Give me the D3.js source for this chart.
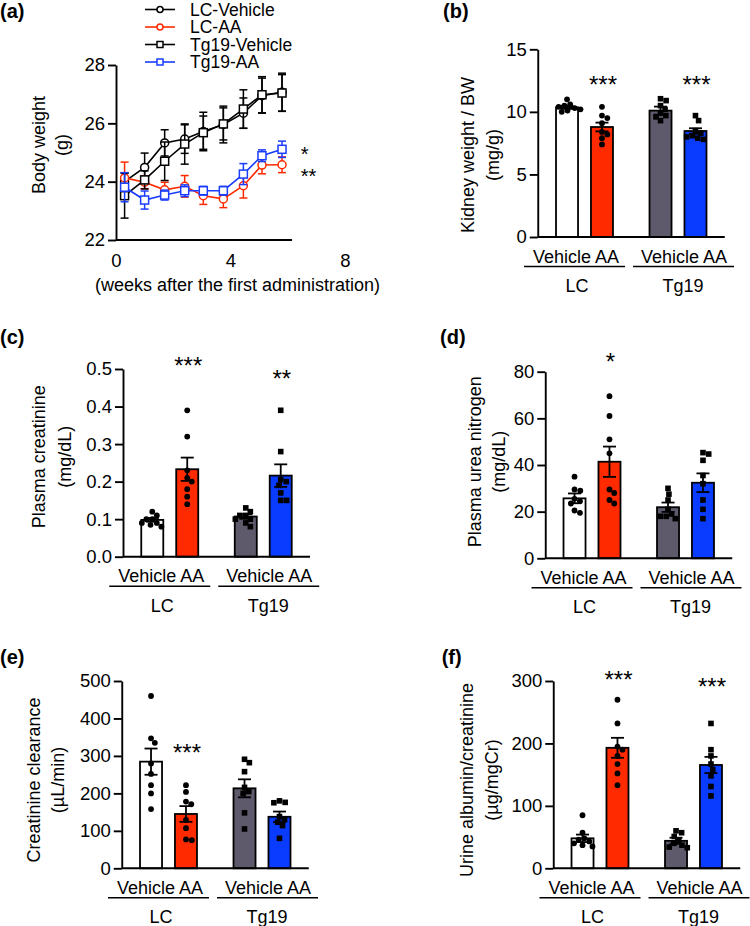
<!DOCTYPE html>
<html>
<head>
<meta charset="utf-8">
<script src="https://cdn.jsdelivr.net/npm/d3@7"></script>
<style>
  body { margin: 0; background: #fff; }
  text { font-family: "Liberation Sans", Arial, Helvetica, sans-serif; fill: #000; }
</style>
</head>
<body>
<svg id="fig" width="750" height="926"></svg>
<script>
// ---- (a) body weight time course
var weeks = [0.3, 1.0, 1.7, 2.4, 3.05, 3.75, 4.45, 5.1, 5.8];
var bwLCVehicle = [24.0, 24.49, 25.33, 25.46, 25.72, 25.96, 26.35, 26.95, 27.07];
var bwLCVehicleSem = [0.3, 0.49, 0.45, 0.49, 0.66, 0.63, 0.52, 0.6, 0.65];
var bwLCAA = [24.13, 23.98, 23.72, 23.84, 23.52, 23.41, 23.86, 24.57, 24.58];
var bwLCAASem = [0.54, 0.22, 0.26, 0.37, 0.3, 0.3, 0.42, 0.3, 0.27];
var bwTgVehicle = [23.52, 24.06, 24.70, 25.29, 25.68, 25.98, 26.49, 26.98, 27.04];
var bwTgVehicleSem = [0.77, 0.31, 0.66, 0.69, 0.57, 0.55, 0.66, 0.62, 0.63];
var bwTgAA = [23.81, 23.37, 23.54, 23.69, 23.69, 23.69, 24.26, 24.89, 25.11];
var bwTgAASem = [0.5, 0.31, 0.17, 0.2, 0.15, 0.15, 0.36, 0.2, 0.28];
var bwSig = ['*', '**'];
var bwSigAt = [25.12, 24.36];

// ---- bar panels, groups in order LC-Vehicle, LC-AA, Tg19-Vehicle, Tg19-AA
var genotypes = ['LC', 'Tg19'];
var treatments = ['Vehicle', 'AA'];
var barColors = ['#ffffff', '#ff2a00', '#5f5a6b', '#0a3cff'];

// (b) kidney weight / BW
var kwMean = [10.36, 8.79, 10.1, 8.47];
var kwSem = [0.12, 0.35, 0.32, 0.22];
var kwPoints = [
  [11.0, 10.6, 10.5, 10.4, 10.3, 10.2, 10.1, 10.0],
  [10.4, 9.7, 9.5, 9.1, 8.4, 8.2, 7.9, 7.4],
  [11.05, 10.9, 10.5, 10.2, 9.9, 9.7, 9.6, 9.3],
  [9.7, 9.3, 8.5, 8.3, 8.1, 8.0, 7.9, 7.8]
];
var kwSig = ['', '***', '', '***'];
var kwSigAt = [0, 12.6, 0, 12.6];

// (c) plasma creatinine
var crMean = [0.098, 0.233, 0.107, 0.216];
var crSem = [0.005, 0.031, 0.006, 0.03];
var crPoints = [
  [0.12, 0.11, 0.10, 0.10, 0.09, 0.09, 0.085, 0.08],
  [0.39, 0.32, 0.23, 0.21, 0.20, 0.18, 0.16, 0.14],
  [0.13, 0.12, 0.11, 0.11, 0.10, 0.10, 0.09, 0.08],
  [0.39, 0.28, 0.205, 0.20, 0.19, 0.17, 0.15, 0.15]
];
var crSig = ['', '***', '', '**'];
var crSigAt = [0, 0.524, 0, 0.49];

// (d) plasma urea nitrogen
var bunMean = [25.7, 41.4, 21.9, 32.4];
var bunSem = [2.1, 6.5, 2.0, 4.0];
var bunPoints = [
  [35, 29.5, 29, 25.5, 24.5, 23.5, 20.5, 19.5],
  [69.5, 61, 51, 45, 29.5, 28, 25, 23.5],
  [30, 27.5, 25, 21, 19, 18, 18, 17],
  [45.3, 44.7, 42, 35.5, 32, 25, 21, 17]
];
var bunSig = ['', '*', '', ''];
var bunSigAt = [0, 86.7, 0, 0];

// (e) creatinine clearance
var ccrMean = [284.7, 145, 213.5, 137.5];
var ccrSem = [35, 21, 24, 14];
var ccrPoints = [
  [460, 347, 335, 280, 252, 222, 200, 158],
  [222, 204, 178, 171, 129, 107, 77, 75],
  [291, 282, 258, 216, 205, 200, 148, 105],
  [180, 176, 175, 138, 130, 123, 114, 80]
];
var ccrSig = ['', '***', '', ''];
var ccrSigAt = [0, 324, 0, 0];

// (f) urine albumin / creatinine
var uacrMean = [48, 193, 44, 165.5];
var uacrSem = [6, 16, 5, 13];
var uacrPoints = [
  [85, 57, 48, 46, 43, 40, 37, 35],
  [270, 232, 195, 190, 180, 167, 152, 133],
  [60, 57, 51, 45, 40, 37, 34, 33],
  [232, 190, 180, 167, 158, 148, 131, 116]
];
var uacrSig = ['', '***', '', '***'];
var uacrSigAt = [0, 311, 0, 300.5];

var svg = d3.select('#fig');
var FS = 18, AXW = 1.9;

function styleAxis(g) {
  g.attr('font-family', null).attr('font-size', null);
  g.selectAll('.domain, .tick line').attr('stroke', '#000').attr('stroke-width', AXW);
  g.selectAll('.tick text').attr('font-size', 18.5).attr('fill', '#000');
}

function panelLabel(t, x, y) {
  svg.append('text').attr('x', x).attr('y', y)
    .attr('font-size', 20).attr('font-weight', 'bold').text(t);
}

function yTitle(lines, xs, cy) {
  lines.forEach(function(t, i) {
    svg.append('text')
      .attr('transform', 'translate(' + xs[i] + ',' + cy + ') rotate(-90)')
      .attr('text-anchor', 'middle').attr('font-size', FS).text(t);
  });
}

// ================= panel (a)
(function() {
  var x = d3.scaleLinear().domain([0, 8]).range([116, 345]),
      y = d3.scaleLinear().domain([22, 28]).range([240, 65]),
      xAxisEnd = 6.15;

  var series = [
    {name: 'LC-Vehicle', color: '#000', sym: 'circle', mean: bwLCVehicle, sem: bwLCVehicleSem},
    {name: 'LC-AA', color: '#ff2a00', sym: 'circle', mean: bwLCAA, sem: bwLCAASem},
    {name: 'Tg19-Vehicle', color: '#000', sym: 'square', mean: bwTgVehicle, sem: bwTgVehicleSem},
    {name: 'Tg19-AA', color: '#1a3cff', sym: 'square', mean: bwTgAA, sem: bwTgAASem}
  ];

  var g = svg.append('g');

  var yAx = g.append('g').attr('transform', 'translate(' + x(0) + ',0)')
    .call(d3.axisLeft(y).tickValues([22, 24, 26, 28]).tickFormat(d3.format('d'))
      .tickSize(8).tickPadding(3).tickSizeOuter(0));
  styleAxis(yAx);

  g.append('line').attr('x1', x(0)).attr('x2', x(xAxisEnd))
    .attr('y1', y(22)).attr('y2', y(22)).attr('stroke', '#000').attr('stroke-width', AXW);

  var xAx = g.append('g').attr('transform', 'translate(0,' + y(22) + ')')
    .call(d3.axisBottom(x).tickValues([0, 4, 8]).tickSize(0).tickPadding(14));
  styleAxis(xAx);
  xAx.select('.domain').remove();

  svg.append('text').attr('x', 237.5).attr('y', 291).attr('text-anchor', 'middle')
    .attr('font-size', FS).text('(weeks after the first administration)');

  var line = d3.line().x(function(d, i) { return x(weeks[i]); }).y(function(d) { return y(d); });

  function drawSym(sel, s, r) {
    if (s.sym === 'circle') {
      sel.append('circle').attr('r', r);
    } else {
      sel.append('rect').attr('x', -r).attr('y', -r).attr('width', 2 * r).attr('height', 2 * r);
    }
    sel.selectAll('circle, rect').attr('fill', '#fff').attr('stroke', s.color).attr('stroke-width', 1.5);
  }

  series.forEach(function(s) {
    var sg = g.append('g');
    sg.append('path').datum(s.mean).attr('d', line)
      .attr('fill', 'none').attr('stroke', s.color).attr('stroke-width', 1.6);

    var eb = sg.selectAll('g.eb').data(s.mean).enter().append('g').attr('class', 'eb')
      .attr('transform', function(d, i) { return 'translate(' + x(weeks[i]) + ',0)'; });
    eb.append('line').attr('y1', function(d, i) { return y(d - s.sem[i]); })
      .attr('y2', function(d, i) { return y(d + s.sem[i]); });
    eb.append('line').attr('x1', -4).attr('x2', 4)
      .attr('y1', function(d, i) { return y(d + s.sem[i]); }).attr('y2', function(d, i) { return y(d + s.sem[i]); });
    eb.append('line').attr('x1', -4).attr('x2', 4)
      .attr('y1', function(d, i) { return y(d - s.sem[i]); }).attr('y2', function(d, i) { return y(d - s.sem[i]); });
    eb.selectAll('line').attr('stroke', s.color).attr('stroke-width', 1.5);

    sg.selectAll('g.pt').data(s.mean).enter().append('g').attr('class', 'pt')
      .attr('transform', function(d, i) { return 'translate(' + x(weeks[i]) + ',' + y(d) + ')'; })
      .each(function() { drawSym(d3.select(this), s, 4); });
  });

  bwSig.forEach(function(t, i) {
    svg.append('text').attr('x', x(6.45)).attr('y', y(bwSigAt[i]) + 12)
      .attr('font-size', 20).text(t);
  });

  // legend
  var lg = svg.append('g').selectAll('g').data(series).enter().append('g')
    .attr('transform', function(d, i) { return 'translate(0,' + (9.5 + i * 17.5) + ')'; });
  lg.append('line').attr('x1', 145).attr('x2', 175)
    .attr('stroke', function(d) { return d.color; }).attr('stroke-width', 1.6);
  lg.each(function(d) {
    var m = d3.select(this).append('g').attr('transform', 'translate(160,0)');
    drawSym(m, d, 3);
  });
  lg.append('text').attr('x', 190).attr('y', 6.3).attr('font-size', 17.5).text(function(d) { return d.name; });

  yTitle(['Body weight', '(g)'], [44.7, 68], 145);
  panelLabel('(a)', 0, 17.5);
})();

// ================= bar panels
function barPanel(p) {
  var g = svg.append('g');
  var y = d3.scaleLinear().domain([0, p.max]).range([p.bottom, p.top]);
  var outer = d3.scaleBand().domain(genotypes).range([p.ax, p.ax + 187]).paddingInner(0.2).paddingOuter(0.1);
  var inner = d3.scaleBand().domain(treatments).range([0, outer.bandwidth()]).paddingInner(0.37).paddingOuter(0.255);
  var bw = inner.bandwidth();

  var bars = p.mean.map(function(m, i) {
    var gen = genotypes[i >> 1], trt = treatments[i & 1];
    return {i: i, gen: gen, mean: m, sem: p.sem[i], pts: p.points[i],
            cx: outer(gen) + inner(trt) + bw / 2, color: barColors[i]};
  });

  // bars
  g.selectAll('rect.bar').data(bars).enter().append('rect').attr('class', 'bar')
    .attr('x', function(d) { return d.cx - bw / 2; }).attr('width', bw)
    .attr('y', function(d) { return y(d.mean); })
    .attr('height', function(d) { return y(0) - y(d.mean); })
    .attr('fill', function(d) { return d.color; })
    .attr('stroke', '#000').attr('stroke-width', 1.8);

  // error bars (mean +/- SEM)
  var eb = g.selectAll('g.eb').data(bars).enter().append('g').attr('class', 'eb');
  eb.append('line').attr('x1', function(d) { return d.cx; }).attr('x2', function(d) { return d.cx; })
    .attr('y1', function(d) { return y(d.mean - d.sem); }).attr('y2', function(d) { return y(d.mean + d.sem); });
  [1, -1].forEach(function(sgn) {
    eb.append('line').attr('x1', function(d) { return d.cx - 6.5; }).attr('x2', function(d) { return d.cx + 6.5; })
      .attr('y1', function(d) { return y(d.mean + sgn * d.sem); }).attr('y2', function(d) { return y(d.mean + sgn * d.sem); });
  });
  eb.selectAll('line').attr('stroke', '#000').attr('stroke-width', 1.8);

  // individual points, spread like a small beeswarm
  var minDist = 5.9;
  bars.forEach(function(b) {
    var placed = [];
    b.pts.forEach(function(v) {
      var py = y(v), cands = [0];
      placed.forEach(function(q) {
        var dy = Math.abs(q.y - py);
        if (dy < minDist) {
          var dx = Math.sqrt(minDist * minDist - dy * dy);
          cands.push(q.x + dx, q.x - dx);
        }
      });
      cands.sort(function(a, c) { return Math.abs(a) - Math.abs(c); });
      var px = cands.find(function(c) {
        return placed.every(function(q) { return (q.x - c) * (q.x - c) + (q.y - py) * (q.y - py) >= minDist * minDist - 0.01; });
      });
      placed.push({x: px, y: py});
    });
    placed.forEach(function(q) {
      if (b.gen === 'LC') {
        g.append('circle').attr('cx', b.cx + q.x).attr('cy', q.y).attr('r', 2.9).attr('fill', '#000');
      } else {
        g.append('rect').attr('x', b.cx + q.x - 2.8).attr('y', q.y - 2.8)
          .attr('width', 5.6).attr('height', 5.6).attr('fill', '#000');
      }
    });
  });

  // axes
  var yAx = g.append('g').attr('transform', 'translate(' + p.ax + ',0)')
    .call(d3.axisLeft(y).tickValues(p.ticks).tickFormat(p.fmt).tickSize(8).tickPadding(3).tickSizeOuter(0));
  styleAxis(yAx);
  g.append('line').attr('x1', p.ax).attr('x2', outer.range()[1]).attr('y1', y(0)).attr('y2', y(0))
    .attr('stroke', '#000').attr('stroke-width', AXW);

  // group labels
  var textOff = [-8.5, 6], lineOff = [-10, 5.5], genOff = [-7.5, 5];
  genotypes.forEach(function(gen, k) {
    var c = outer(gen) + outer.bandwidth() / 2;
    g.append('text').attr('x', c + textOff[k]).attr('y', y(0) + 25.5).attr('text-anchor', 'middle')
      .attr('font-size', FS).text(treatments.join(' '));
    g.append('line').attr('x1', c + lineOff[k] - 50.5).attr('x2', c + lineOff[k] + 50.5)
      .attr('y1', y(0) + 29.5).attr('y2', y(0) + 29.5).attr('stroke', '#000').attr('stroke-width', 1.6);
    g.append('text').attr('x', c + genOff[k]).attr('y', y(0) + 55).attr('text-anchor', 'middle')
      .attr('font-size', FS).text(gen);
  });

  // significance marks
  bars.forEach(function(b) {
    if (!p.sig[b.i]) return;
    g.append('text').attr('x', b.cx + 1).attr('y', y(p.sigAt[b.i]) + 14)
      .attr('text-anchor', 'middle').attr('font-size', 24).text(p.sig[b.i]);
  });

  yTitle(p.title, p.titleX, p.titleY);
  panelLabel(p.label, p.labelX, p.labelY);
}

barPanel({label: '(b)', labelX: 443, labelY: 17.5, ax: 537.75, top: 49.3, bottom: 237, max: 15,
  ticks: [0, 5, 10, 15], fmt: d3.format('d'), mean: kwMean, sem: kwSem, points: kwPoints,
  sig: kwSig, sigAt: kwSigAt, title: ['Kidney weight / BW', '(mg/g)'], titleX: [474, 499], titleY: 155});

barPanel({label: '(c)', labelX: 0, labelY: 344, ax: 123, top: 369, bottom: 556.7, max: 0.5,
  ticks: [0, 0.1, 0.2, 0.3, 0.4, 0.5], fmt: d3.format('.1f'), mean: crMean, sem: crSem, points: crPoints,
  sig: crSig, sigAt: crSigAt, title: ['Plasma creatinine', '(mg/dL)'], titleX: [44.7, 70.5], titleY: 456.7});

barPanel({label: '(d)', labelX: 440, labelY: 344, ax: 545.25, top: 371.7, bottom: 558.3, max: 80,
  ticks: [0, 20, 40, 60, 80], fmt: d3.format('d'), mean: bunMean, sem: bunSem, points: bunPoints,
  sig: bunSig, sigAt: bunSigAt, title: ['Plasma urea nitrogen', '(mg/dL)'], titleX: [481.3, 505], titleY: 461.7});

barPanel({label: '(e)', labelX: 0, labelY: 664, ax: 121.75, top: 681, bottom: 868.3, max: 500,
  ticks: [0, 100, 200, 300, 400, 500], fmt: d3.format('d'), mean: ccrMean, sem: ccrSem, points: ccrPoints,
  sig: ccrSig, sigAt: ccrSigAt, title: ['Creatinine clearance', '(\u00b5L/min)'], titleX: [39.7, 63.5], titleY: 780});

barPanel({label: '(f)', labelX: 441.7, labelY: 664, ax: 553.25, top: 681, bottom: 868.3, max: 300,
  ticks: [0, 100, 200, 300], fmt: d3.format('d'), mean: uacrMean, sem: uacrSem, points: uacrPoints,
  sig: uacrSig, sigAt: uacrSigAt, title: ['Urine albumin/creatinine', '(\u00b5g/mgCr)'], titleX: [473, 498], titleY: 780});
</script>
</body>
</html>
